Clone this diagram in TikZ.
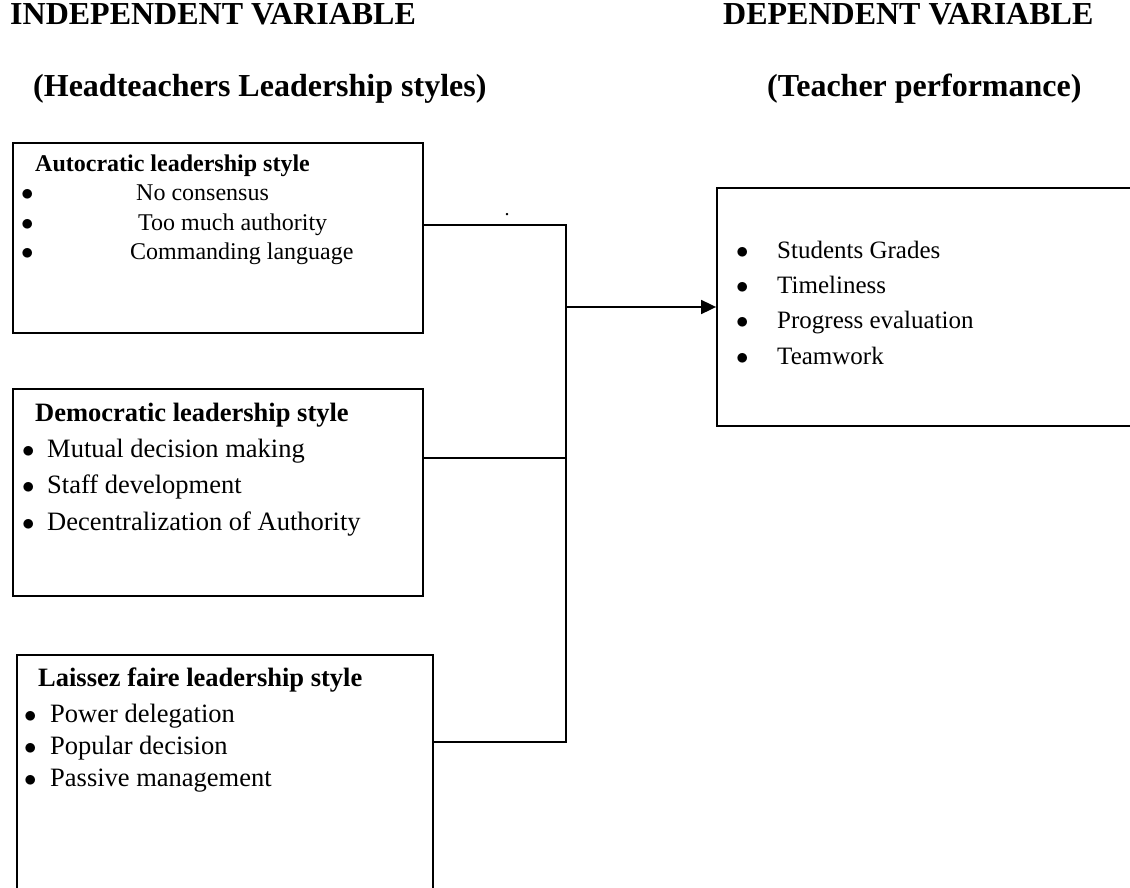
\documentclass[tikz,border=0pt]{standalone}
\usepackage{fontspec}
\setmainfont{Liberation Serif}
\usetikzlibrary{arrows.meta,positioning}

% bullet, then the text at a fixed indent
\newcommand{\bitem}[2]{\makebox[#1][l]{$\bullet$}#2}

\begin{document}
\begin{tikzpicture}[x=1pt,y=-1pt,
  box/.style={draw,line width=1.8pt,rectangle,inner sep=0pt},
  head/.style={anchor=west,inner sep=0pt,text height=0.66em,text depth=0pt,
               font=\fontsize{32}{38}\selectfont\bfseries},
  item/.style={anchor=west,inner sep=0pt,text height=0.66em,text depth=0pt},
  link/.style={line width=1.8pt}]

\path[use as bounding box,clip] (0,0) rectangle (1130,888);

%─── Headings ────────────────────────────────────────────────────────────────
\node[head] (indep)    at (10,21)  {INDEPENDENT VARIABLE};
\node[head] (indepsub) at (33,93)  {(Headteachers Leadership styles)};
\node[head] (dep)      at (723,21) {DEPENDENT VARIABLE};
\node[head] (depsub)   at (767,93) {(Teacher performance)};

%─── Autocratic box ──────────────────────────────────────────────────────────
\node[box,minimum width=410pt,minimum height=190pt] (auto) at (218,238) {};
\begin{scope}[every node/.append style={font=\fontsize{24}{29}\selectfont}]
  \node[item,font=\fontsize{24}{29}\selectfont\bfseries] (autot) at (35,168)
    {Autocratic leadership style};
  \node[item] (auto1) at (21,197) {\bitem{115pt}{No consensus}};
  \node[item] (auto2) at (21,227) {\bitem{117pt}{Too much authority}};
  \node[item] (auto3) at (21,256) {\bitem{109pt}{Commanding language}};
\end{scope}

%─── Democratic box ──────────────────────────────────────────────────────────
\node[box,minimum width=410pt,minimum height=207pt] (demo) at (218,492.5) {};
\begin{scope}[every node/.append style={font=\fontsize{26.5}{32}\selectfont}]
  \node[item,font=\fontsize{26.5}{32}\selectfont\bfseries] (demot) at (35,418)
    {Democratic leadership style};
  \node[item] (demo1) at (22,454) {\bitem{25pt}{Mutual decision making}};
  \node[item] (demo2) at (22,490) {\bitem{25pt}{Staff development}};
  \node[item] (demo3) at (22,527) {\bitem{25pt}{Decentralization of Authority}};
\end{scope}

%─── Laissez faire box ───────────────────────────────────────────────────────
\node[box,minimum width=416pt,minimum height=250pt] (laissez) at (225,780) {};
\begin{scope}[every node/.append style={font=\fontsize{26.5}{32}\selectfont}]
  \node[item,font=\fontsize{26.5}{32}\selectfont\bfseries] (laist) at (38,683)
    {Laissez faire leadership style};
  \node[item] (lais1) at (24,719) {\bitem{26pt}{Power delegation}};
  \node[item] (lais2) at (24,751) {\bitem{26pt}{Popular decision}};
  \node[item] (lais3) at (24,783) {\bitem{26pt}{Passive management}};
\end{scope}

%─── Teacher performance box ─────────────────────────────────────────────────
\node[box,minimum width=430pt,minimum height=238pt] (perf) at (932,307) {};
\begin{scope}[every node/.append style={font=\fontsize{25}{30}\selectfont}]
  \node[item] (perf1) at (736,255) {\bitem{41pt}{Students Grades}};
  \node[item] (perf2) at (736,290) {\bitem{41pt}{Timeliness}};
  \node[item] (perf3) at (736,325) {\bitem{41pt}{Progress evaluation}};
  \node[item] (perf4) at (736,361) {\bitem{41pt}{Teamwork}};
\end{scope}

%─── Connectors ──────────────────────────────────────────────────────────────
\coordinate (bustop) at (566,225);
\coordinate (busmid) at (566,458);
\coordinate (busbot) at (566,742);
\node[inner sep=0pt,font=\fontsize{20}{24}\selectfont] (stray) at (507,215) {.};
\draw[link] (auto.east |- bustop) -- (bustop) -- (busbot)
  -- (laissez.east |- busbot);
\draw[link] (demo.east |- busmid) -- (busmid);
\draw[link,-{Triangle[length=15pt,width=14pt]}] (perf.west -| bustop)
  -- (perf.west);

\end{tikzpicture}
\end{document}
